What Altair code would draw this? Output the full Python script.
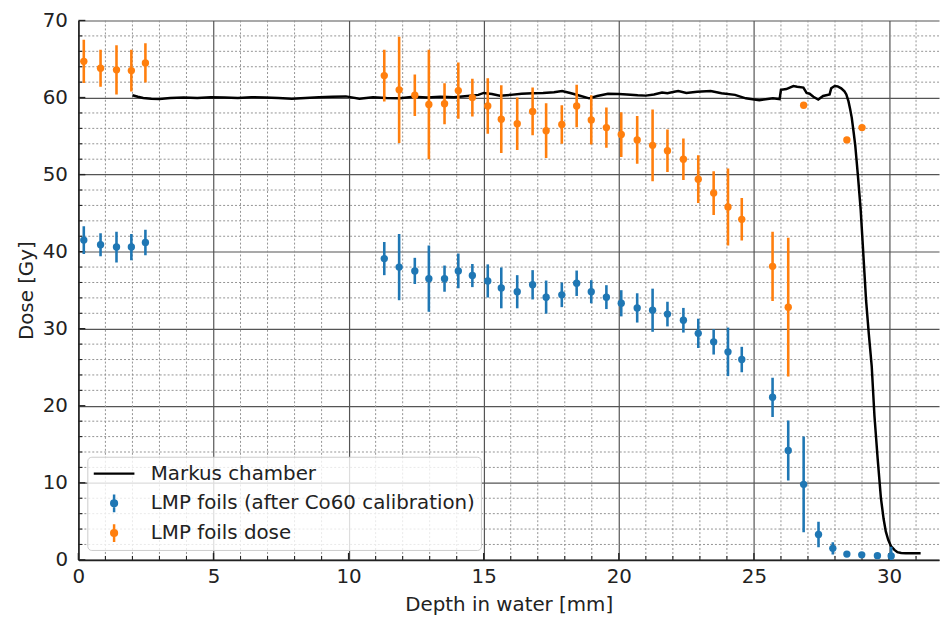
import altair as alt
import pandas as pd

# ---------------- data ----------------
series_names = ["Markus chamber", "LMP foils (after Co60 calibration)", "LMP foils dose"]
series_colors = ["black", "#1f77b4", "#ff7f0e"]

markus_x = [2.0, 2.2, 2.4, 2.7, 3.0, 3.4, 3.9, 4.4, 4.9, 5.4, 5.9, 6.4, 6.9, 7.4, 7.9, 8.4,
            8.9, 9.4, 9.9, 10.4, 10.9, 11.4, 11.9, 12.4, 12.9, 13.4, 13.9, 14.4, 14.8, 15.0,
            15.3, 15.6, 16.0, 16.4, 16.8, 17.2, 17.6, 17.9, 18.2, 18.5, 18.9, 19.2, 19.6,
            20.0, 20.3, 20.7, 21.0, 21.3, 21.6, 21.8, 22.05, 22.2, 22.5, 22.9, 23.4, 23.8,
            24.3, 24.7, 25.2, 25.5, 25.7, 25.95, 26.0, 26.2, 26.46, 26.6, 26.83, 26.95,
            27.06, 27.2, 27.38, 27.56, 27.8, 27.86, 27.99, 28.1, 28.23, 28.35, 28.42, 28.5,
            28.56, 28.62, 28.69, 28.75, 28.85, 28.95, 29.03, 29.15, 29.25, 29.36, 29.46,
            29.58, 29.7, 29.8, 29.88, 29.97, 30.07, 30.2, 30.31, 30.45, 30.62, 30.9, 31.17]
markus_y = [60.3, 60.1, 59.95, 59.85, 59.8, 59.95, 60.0, 59.95, 60.05, 60.0, 59.95, 60.05,
            60.0, 59.95, 59.85, 59.95, 60.05, 60.1, 60.15, 59.85, 60.05, 59.95, 59.9, 60.1,
            60.0, 60.1, 60.05, 60.2, 60.35, 60.6, 60.45, 60.25, 60.35, 60.5, 60.55, 60.6,
            60.7, 60.85, 60.6, 60.3, 59.9, 60.2, 60.5, 60.45, 60.4, 60.3, 60.25, 60.4, 60.65,
            60.55, 60.75, 60.85, 60.6, 60.75, 60.85, 60.55, 60.35, 59.9, 59.65, 59.8, 59.9,
            59.8, 61.0, 61.1, 61.5, 61.4, 61.3, 60.6, 60.5, 60.1, 59.75, 60.2, 60.4, 61.2,
            61.5, 61.45, 61.2, 60.8, 60.4, 59.5, 58.5, 57.4, 55.5, 53.8, 49.8, 45.5, 40.8,
            33.7, 29.4, 25.1, 18.7, 13.1, 8.0, 5.3, 3.7, 2.6, 1.8, 1.3, 1.0, 0.9, 0.85,
            0.85, 0.85]

blue_x = [0.2, 0.82, 1.41, 1.96, 2.48, 11.32, 11.87, 12.45, 12.97, 13.55, 14.06, 14.58,
          15.15, 15.65, 16.24, 16.81, 17.31, 17.89, 18.44, 18.98, 19.54, 20.09, 20.68,
          21.25, 21.8, 22.39, 22.94, 23.51, 24.04, 24.55, 25.69, 26.27, 26.84, 27.39,
          27.92, 28.44, 28.99, 29.57, 30.08]
blue_y = [41.5, 40.9, 40.6, 40.6, 41.2, 39.1, 38.0, 37.5, 36.5, 36.5, 37.5, 36.9, 36.2,
          35.3, 34.8, 35.7, 34.1, 34.4, 35.9, 34.8, 34.1, 33.3, 32.7, 32.4, 31.9, 31.1,
          29.4, 28.3, 27.0, 26.0, 21.1, 14.2, 9.8, 3.3, 1.5, 0.75, 0.65, 0.55, 0.5]
blue_err = [1.8, 1.5, 2.0, 1.7, 1.65, 2.15, 4.3, 1.7, 4.3, 1.7, 2.25, 1.5, 2.15, 2.65,
            2.15, 1.9, 2.15, 1.6, 1.65, 1.5, 1.55, 1.7, 1.9, 2.8, 1.6, 1.6, 1.9, 1.65, 3.15,
            1.65, 2.55, 3.9, 6.2, 1.65, 0.8, 0.3, 0.3, 0.3, 1.2]

orange_x = [0.2, 0.82, 1.41, 1.96, 2.48, 11.32, 11.87, 12.45, 12.97, 13.55, 14.06, 14.58,
            15.15, 15.65, 16.24, 16.81, 17.31, 17.89, 18.44, 18.98, 19.54, 20.09, 20.68,
            21.25, 21.8, 22.39, 22.94, 23.51, 24.04, 24.55, 25.69, 26.27, 26.84, 28.44, 29.0]
orange_y = [64.7, 63.8, 63.6, 63.5, 64.5, 62.85, 61.0, 60.3, 59.1, 59.2, 60.9, 60.0, 58.9,
            57.2, 56.6, 58.2, 55.7, 56.5, 58.9, 57.1, 56.1, 55.2, 54.5, 53.8, 53.1, 52.0,
            49.4, 47.6, 45.8, 44.2, 38.1, 32.8, 59.0, 54.5, 56.1]
orange_err = [2.8, 2.4, 3.2, 2.7, 2.55, 3.35, 6.9, 2.7, 7.1, 2.65, 3.65, 2.45, 3.6, 4.4,
              3.4, 3.1, 3.55, 2.5, 2.75, 3.2, 2.6, 2.9, 3.1, 4.65, 2.75, 2.7, 3.1, 2.85, 5.0,
              2.75, 4.5, 9.0, 0.0, 0.0, 0.0]

x_major = [0, 5, 10, 15, 20, 25, 30]
x_minor = [1, 2, 3, 4, 6, 7, 8, 9, 11, 12, 13, 14, 16, 17, 18, 19, 21, 22, 23, 24, 26, 27,
           28, 29, 31]
y_major = [0, 10, 20, 30, 40, 50, 60, 70]
y_minor = [2, 4, 6, 8, 12, 14, 16, 18, 22, 24, 26, 28, 32, 34, 36, 38, 42, 44, 46, 48, 52,
           54, 56, 58, 62, 64, 66, 68]

x_domain = [0, 31.85]
y_domain = [0, 70]

# ---------------- tables ----------------
df_markus = pd.DataFrame({"depth": markus_x, "dose": markus_y, "col": series_colors[0]})
df_blue = pd.DataFrame({"depth": blue_x, "dose": blue_y, "err": blue_err, "col": series_colors[1]})
df_orange = pd.DataFrame({"depth": orange_x, "dose": orange_y, "err": orange_err, "col": series_colors[2]})
df_pts = pd.concat([df_blue, df_orange], ignore_index=True)
df_pts["lo"] = df_pts["dose"] - df_pts["err"]
df_pts["hi"] = df_pts["dose"] + df_pts["err"]
df_bars = df_pts[df_pts["err"] > 0]
df_legend = pd.DataFrame({"series": series_names, "depth": [None] * 3, "dose": [None] * 3})

FONT = "DejaVu Sans"
FS = 20
W, H = 868, 544

xs = alt.Scale(domain=x_domain, nice=False, zero=False)
ys = alt.Scale(domain=y_domain, nice=False, zero=False)
x_axis = alt.Axis(values=x_major, grid=True, gridColor="#555555", gridWidth=1.2,
                  ticks=False, labelPadding=7, labelFlush=False, labelOverlap=False,
                  format="d", title="Depth in water [mm]", titlePadding=8)
y_axis = alt.Axis(values=y_major, grid=True, gridColor="#555555", gridWidth=1.2,
                  ticks=False, labelPadding=11, labelFlush=False, labelOverlap=False,
                  format="d", title="Dose [Gy]", titlePadding=6)


def X(field="depth"):
    return alt.X(f"{field}:Q", scale=xs, axis=x_axis)


def Y(field="dose"):
    return alt.Y(f"{field}:Q", scale=ys, axis=y_axis)


color_enc = alt.Color("col:N", scale=None)

# minor dotted grid
grid_v = alt.Chart(pd.DataFrame({"depth": x_minor})).mark_rule(
    color="#939393", strokeWidth=1, strokeDash=[2, 2]).encode(x=X())
grid_h = alt.Chart(pd.DataFrame({"dose": y_minor})).mark_rule(
    color="#939393", strokeWidth=1, strokeDash=[2, 2]).encode(y=Y())

# inward ticks
tick_xmin = alt.Chart(pd.DataFrame({"depth": x_minor})).mark_rule(color="#222", strokeWidth=1.1).encode(
    x=X(), y=alt.value(H), y2=alt.value(H - 4))
tick_xmaj = alt.Chart(pd.DataFrame({"depth": x_major})).mark_rule(color="#222", strokeWidth=1.4).encode(
    x=X(), y=alt.value(H), y2=alt.value(H - 7))
tick_ymin = alt.Chart(pd.DataFrame({"dose": y_minor})).mark_rule(color="#222", strokeWidth=1.1).encode(
    y=Y(), x=alt.value(0), x2=alt.value(4))
tick_ymaj = alt.Chart(pd.DataFrame({"dose": y_major})).mark_rule(color="#222", strokeWidth=1.4).encode(
    y=Y(), x=alt.value(0), x2=alt.value(7))

markus_line = alt.Chart(df_markus).mark_line(strokeWidth=2.5, clip=True).encode(
    x=X(), y=Y(), color=color_enc, order="depth:Q")

err_bars = alt.Chart(df_bars).mark_rule(strokeWidth=2.6, clip=True).encode(
    x=X(), y=Y("lo"), y2="hi:Q", color=color_enc)

points = alt.Chart(df_pts).mark_circle(size=55, opacity=1, clip=True).encode(
    x=X(), y=Y(), color=color_enc)

# legend symbol: vertical error bar with a dot (two concentric rings make a solid dot)
EB = ("M0,-0.44L0,0.44"
      "M0.14,0A0.14,0.14,0,1,1,-0.14,0A0.14,0.14,0,1,1,0.14,0Z"
      "M0.06,0A0.06,0.06,0,1,1,-0.06,0A0.06,0.06,0,1,1,0.06,0Z")
leg = alt.Legend(title=None, orient="none", legendX=9, legendY=440, padding=5,
                 rowPadding=6, clipHeight=24, labelOffset=15, labelFontSize=FS,
                 labelFont=FONT, labelColor="#222", labelLimit=600,
                 fillColor="rgba(255,255,255,0.8)", strokeColor="#cccccc", cornerRadius=4,
                 symbolSize=1681, symbolStrokeWidth=2.5)
legend_layer = alt.Chart(df_legend).mark_point(opacity=1, strokeWidth=2.5, filled=False).encode(
    x=X(), y=Y(),
    shape=alt.Shape("series:N", scale=alt.Scale(domain=series_names, range=["stroke", EB, EB]), legend=leg),
    stroke=alt.Stroke("series:N", scale=alt.Scale(domain=series_names, range=series_colors), legend=leg),
)

chart = alt.layer(
    grid_v, grid_h, tick_xmin, tick_xmaj, tick_ymin, tick_ymaj,
    markus_line, err_bars, points, legend_layer
).properties(
    width=W, height=H,
    padding={"left": 71, "top": 10, "right": 2, "bottom": 55},
    autosize=alt.AutoSizeParams(type="none"),
    background="white",
).configure_view(stroke=None).configure_axis(
    labelFont=FONT, titleFont=FONT, labelFontSize=FS, titleFontSize=FS,
    labelColor="#222", titleColor="#222", titleFontWeight="normal",
    domainColor="#222", domainWidth=1.6,
)

chart.save("out.html", embed_options={"renderer": "svg", "actions": False})
